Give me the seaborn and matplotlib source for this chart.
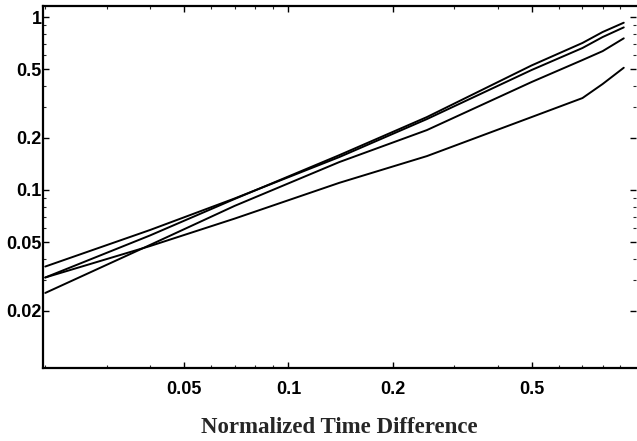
import numpy as np
import pandas as pd
import matplotlib
matplotlib.use("Agg")
import matplotlib.pyplot as plt
import seaborn as sns
from matplotlib.ticker import FixedLocator, FixedFormatter, LogLocator, NullFormatter

# Data
time_diff = [0.02, 0.04, 0.07, 0.14, 0.25, 0.5, 0.7, 0.8, 0.92]
series_a = [0.0361, 0.0587, 0.0893, 0.155, 0.257, 0.494, 0.662, 0.766, 0.871]
series_b = [0.0312, 0.0546, 0.0887, 0.159, 0.264, 0.525, 0.708, 0.819, 0.927]
series_c = [0.0312, 0.0474, 0.0683, 0.110, 0.157, 0.264, 0.340, 0.410, 0.509]
series_d = [0.0254, 0.0481, 0.0809, 0.145, 0.222, 0.421, 0.564, 0.635, 0.753]

x_ticks = [0.05, 0.1, 0.2, 0.5]
x_tick_labels = ["0.05", "0.1", "0.2", "0.5"]
y_ticks = [0.02, 0.05, 0.1, 0.2, 0.5, 1]
y_tick_labels = ["0.02", "0.05", "0.1", "0.2", "0.5", "1"]
x_label = "Normalized Time Difference"

frames = []
for name, vals in [("A", series_a), ("B", series_b), ("C", series_c), ("D", series_d)]:
    frames.append(pd.DataFrame({"t": time_diff, "v": vals, "series": name}))
df = pd.concat(frames, ignore_index=True)

sns.set_style("ticks")
fig = plt.figure(figsize=(6.37, 4.41), dpi=100)
ax = fig.add_axes([0.0675, 0.1655, 0.9315, 0.8215])

sns.lineplot(data=df, x="t", y="v", hue="series",
             palette=["black"] * 4, legend=False, linewidth=1.4, ax=ax,
             estimator=None, sort=True)

ax.set_xscale("log")
ax.set_yscale("log")
ax.set_xlim(0.0197, 1.0)
ax.set_ylim(0.00935, 1.162)

ax.xaxis.set_major_locator(FixedLocator(x_ticks))
ax.xaxis.set_major_formatter(FixedFormatter(x_tick_labels))
ax.yaxis.set_major_locator(FixedLocator(y_ticks))
ax.yaxis.set_major_formatter(FixedFormatter(y_tick_labels))
ax.xaxis.set_minor_locator(LogLocator(base=10, subs=np.arange(2, 10)))
ax.yaxis.set_minor_locator(LogLocator(base=10, subs=np.arange(2, 10)))
ax.xaxis.set_minor_formatter(NullFormatter())
ax.yaxis.set_minor_formatter(NullFormatter())

ax.tick_params(axis="both", which="major", direction="in", length=4, width=1,
               top=True, right=True, colors="black")
ax.tick_params(axis="both", which="minor", direction="in", length=2.5, width=0.8,
               top=True, right=True)
ax.tick_params(axis="x", which="major", pad=9)
ax.tick_params(axis="y", which="major", pad=1)

for lab in ax.get_xticklabels() + ax.get_yticklabels():
    lab.set_fontfamily("Liberation Sans")
    lab.set_fontweight("bold")
    lab.set_fontsize(13)

for s in ["left", "bottom", "top"]:
    ax.spines[s].set_linewidth(1.6)
    ax.spines[s].set_color("black")
ax.spines["right"].set_visible(False)

ax.set_xlabel(x_label, fontfamily="Liberation Serif", fontweight="bold",
              fontsize=16.5, labelpad=14)
ax.set_ylabel("")

fig.savefig("out.png", dpi=100)
